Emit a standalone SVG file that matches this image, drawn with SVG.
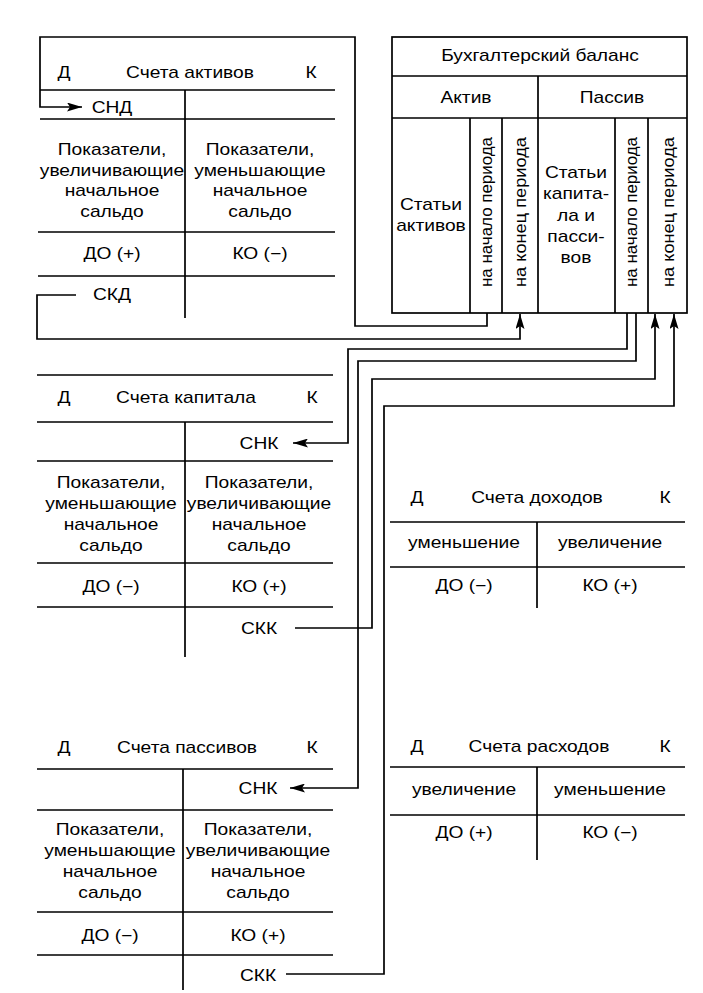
<svg xmlns="http://www.w3.org/2000/svg" width="703" height="993" viewBox="0 0 703 993">
<style>
.t{font-family:"Liberation Sans",Arial,sans-serif;font-size:16px;text-anchor:middle;fill:#000}
.v{font-size:17px}
.ln{stroke:#000;stroke-width:1.7;fill:none}
</style>
<defs>
<marker id="ah" viewBox="0 0 15 9" refX="15" refY="4.5" markerWidth="15" markerHeight="9" markerUnits="userSpaceOnUse" orient="auto">
<path d="M0,0 L15,4.5 L0,9 L3,4.5 z" fill="#000"/>
</marker>
</defs>
<rect width="703" height="993" fill="#fff"/>

<g id="acc-active">
<path class="ln" d="M40,90 H335 M40,119 H335 M38,232 H335 M38,276 H335 M185,90 V318"/>
<g transform="translate(64 0) scale(1.2 1)"><text class="t" y="78">Д</text></g>
<g transform="translate(190 0) scale(1.2 1)"><text class="t" y="78">Счета активов</text></g>
<g transform="translate(311 0) scale(1.2 1)"><text class="t" y="78">К</text></g>
<g transform="translate(112 0) scale(1.2 1)">
<text class="t" y="113">СНД</text>
<text class="t" y="155">Показатели,</text>
<text class="t" y="176">увеличивающие</text>
<text class="t" y="196">начальное</text>
<text class="t" y="217">сальдо</text>
<text class="t" y="259">ДО (+)</text>
<text class="t" y="300">СКД</text>
</g>
<g transform="translate(260 0) scale(1.2 1)">
<text class="t" y="155">Показатели,</text>
<text class="t" y="176">уменьшающие</text>
<text class="t" y="196">начальное</text>
<text class="t" y="217">сальдо</text>
<text class="t" y="259">КО (−)</text>
</g>
</g>

<g id="balance">
<rect class="ln" x="392" y="37" width="295" height="276"/>
<path class="ln" d="M392,76 H687 M392,118 H687 M538,76 V313 M470,118 V313 M502,118 V313 M615,118 V313 M648,118 V313"/>
<g transform="translate(540 0) scale(1.2 1)"><text class="t" y="61">Бухгалтерский баланс</text></g>
<g transform="translate(466 0) scale(1.2 1)"><text class="t" y="103">Актив</text></g>
<g transform="translate(612 0) scale(1.2 1)"><text class="t" y="103">Пассив</text></g>
<g transform="translate(431 0) scale(1.2 1)">
<text class="t" y="210">Статьи</text>
<text class="t" y="231">активов</text>
</g>
<g transform="translate(576 0) scale(1.2 1)">
<text class="t" y="178">Статьи</text>
<text class="t" y="199">капита-</text>
<text class="t" y="221">ла и</text>
<text class="t" y="242">пасси-</text>
<text class="t" y="263">вов</text>
</g>
<text class="t v" transform="translate(492 212) rotate(-90)" textLength="150" lengthAdjust="spacingAndGlyphs">на начало периода</text>
<text class="t v" transform="translate(526 212) rotate(-90)" textLength="150" lengthAdjust="spacingAndGlyphs">на конец периода</text>
<text class="t v" transform="translate(637 212) rotate(-90)" textLength="150" lengthAdjust="spacingAndGlyphs">на начало периода</text>
<text class="t v" transform="translate(674 212) rotate(-90)" textLength="150" lengthAdjust="spacingAndGlyphs">на конец периода</text>
</g>

<g id="acc-capital">
<path class="ln" d="M37,375 H333 M37,422 H333 M37,461 H333 M37,563 H333 M37,607 H333 M185,422 V657"/>
<g transform="translate(64 0) scale(1.2 1)"><text class="t" y="403">Д</text></g>
<g transform="translate(186 0) scale(1.2 1)"><text class="t" y="403">Счета капитала</text></g>
<g transform="translate(312 0) scale(1.2 1)"><text class="t" y="403">К</text></g>
<g transform="translate(111 0) scale(1.2 1)">
<text class="t" y="488">Показатели,</text>
<text class="t" y="509">уменьшающие</text>
<text class="t" y="530">начальное</text>
<text class="t" y="551">сальдо</text>
<text class="t" y="592">ДО (−)</text>
</g>
<g transform="translate(259 0) scale(1.2 1)">
<text class="t" y="449">СНК</text>
<text class="t" y="488">Показатели,</text>
<text class="t" y="509">увеличивающие</text>
<text class="t" y="530">начальное</text>
<text class="t" y="551">сальдо</text>
<text class="t" y="592">КО (+)</text>
<text class="t" y="634">СКК</text>
</g>
</g>

<g id="acc-income">
<path class="ln" d="M390,522 H685 M390,567 H685 M537,522 V608"/>
<g transform="translate(417 0) scale(1.2 1)"><text class="t" y="503">Д</text></g>
<g transform="translate(537 0) scale(1.2 1)"><text class="t" y="503">Счета доходов</text></g>
<g transform="translate(665 0) scale(1.2 1)"><text class="t" y="503">К</text></g>
<g transform="translate(464 0) scale(1.2 1)">
<text class="t" y="548">уменьшение</text>
<text class="t" y="591">ДО (−)</text>
</g>
<g transform="translate(610 0) scale(1.2 1)">
<text class="t" y="548">увеличение</text>
<text class="t" y="591">КО (+)</text>
</g>
</g>

<g id="acc-expense">
<path class="ln" d="M390,767 H685 M390,815 H685 M537,767 V860"/>
<g transform="translate(417 0) scale(1.2 1)"><text class="t" y="752">Д</text></g>
<g transform="translate(539 0) scale(1.2 1)"><text class="t" y="752">Счета расходов</text></g>
<g transform="translate(665 0) scale(1.2 1)"><text class="t" y="752">К</text></g>
<g transform="translate(464 0) scale(1.2 1)">
<text class="t" y="795">увеличение</text>
<text class="t" y="838">ДО (+)</text>
</g>
<g transform="translate(610 0) scale(1.2 1)">
<text class="t" y="795">уменьшение</text>
<text class="t" y="838">КО (−)</text>
</g>
</g>

<g id="acc-passive">
<path class="ln" d="M37,769 H333 M37,810 H333 M37,912 H333 M37,955 H333 M183,769 V990"/>
<g transform="translate(64 0) scale(1.2 1)"><text class="t" y="753">Д</text></g>
<g transform="translate(187 0) scale(1.2 1)"><text class="t" y="753">Счета пассивов</text></g>
<g transform="translate(312 0) scale(1.2 1)"><text class="t" y="753">К</text></g>
<g transform="translate(110 0) scale(1.2 1)">
<text class="t" y="835">Показатели,</text>
<text class="t" y="856">уменьшающие</text>
<text class="t" y="877">начальное</text>
<text class="t" y="898">сальдо</text>
<text class="t" y="941">ДО (−)</text>
</g>
<g transform="translate(258 0) scale(1.2 1)">
<text class="t" y="794">СНК</text>
<text class="t" y="835">Показатели,</text>
<text class="t" y="856">увеличивающие</text>
<text class="t" y="877">начальное</text>
<text class="t" y="898">сальдо</text>
<text class="t" y="941">КО (+)</text>
<text class="t" y="981">СКК</text>
</g>
</g>

<g id="connectors">
<path class="ln" marker-end="url(#ah)" d="M487,313 V326 H355 V37 H40 V107 H82"/>
<path class="ln" marker-end="url(#ah)" d="M76,295 H37 V339 H520 V314"/>
<path class="ln" marker-end="url(#ah)" d="M627,313 V349 H348 V443 H293"/>
<path class="ln" marker-end="url(#ah)" d="M636,313 V361 H358 V788 H290"/>
<path class="ln" marker-end="url(#ah)" d="M295,628 H372 V379 H655 V314"/>
<path class="ln" marker-end="url(#ah)" d="M286,974 H384 V406 H674 V314"/>
</g>
</svg>
